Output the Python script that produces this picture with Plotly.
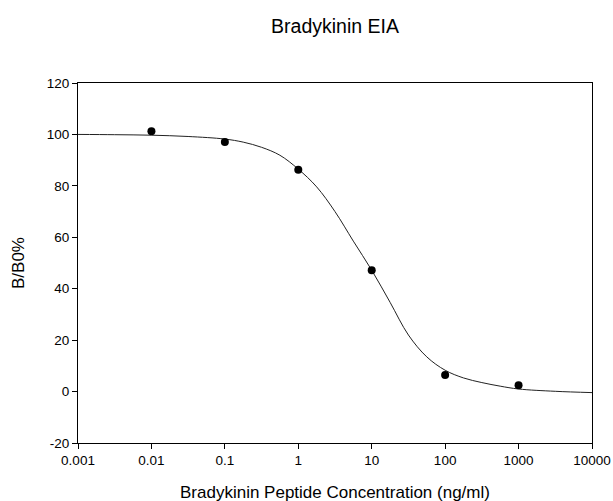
import plotly.graph_objects as go

# Measured points
conc = [0.01, 0.1, 1, 10, 100, 1000]
bb0 = [101.2, 97.1, 86.3, 47.2, 6.4, 2.5]

# Fitted curve (quarter-decade steps)
curve_x = [0.001, 0.00316, 0.01, 0.0316, 0.1, 0.178, 0.316, 0.562, 1, 1.78, 3.16,
           5.62, 10, 17.8, 31.6, 56.2, 100, 178, 316, 562, 1000, 3162, 10000]
curve_y = [100.0, 99.9, 99.7, 99.2, 98.2, 97.0, 95.0, 91.9, 86.5, 79.6, 70.0,
           58.5, 47.2, 34.7, 22.0, 13.5, 8.3, 5.3, 3.5, 2.1, 1.0, 0.1, -0.4]

x_ticks = [0.001, 0.01, 0.1, 1, 10, 100, 1000, 10000]
x_tick_labels = ["0.001", "0.01", "0.1", "1", "10", "100", "1000", "10000"]
y_ticks = [-20, 0, 20, 40, 60, 80, 100, 120]
y_tick_labels = ["-20", "0", "20", "40", "60", "80", "100", "120"]

FONT = "Liberation Sans, Arial, sans-serif"
W, H = 613, 501
L, R, T, B = 78, 21, 83, 58
PW, PH = W - L - R, H - T - B

fig = go.Figure()
fig.add_trace(go.Scatter(
    x=curve_x, y=curve_y, mode="lines",
    line=dict(color="#222222", width=1, shape="spline", smoothing=1.0),
    hoverinfo="skip", showlegend=False))
fig.add_trace(go.Scatter(
    x=conc, y=bb0, mode="markers",
    marker=dict(color="black", size=8),
    showlegend=False))

fig.update_layout(
    width=W, height=H,
    margin=dict(l=L, r=R, t=T, b=B, autoexpand=False),
    paper_bgcolor="white", plot_bgcolor="white",
    font=dict(family=FONT, color="black", size=13.5),
    title=dict(text="Bradykinin EIA", x=335 / W, xanchor="center",
               y=1 - 26 / H, yanchor="middle",
               font=dict(family=FONT, size=19.5, color="black")),
    annotations=[
        dict(text="Bradykinin Peptide Concentration (ng/ml)", xref="paper", yref="paper",
             x=0.5, y=-(492 - (H - B)) / PH, xanchor="center", yanchor="middle",
             showarrow=False, font=dict(family=FONT, size=17, color="black")),
        dict(text="B/B0%", xref="paper", yref="paper", textangle=-90,
             x=-(L - 18) / PW, y=0.5, xanchor="center", yanchor="middle",
             showarrow=False, font=dict(family=FONT, size=17, color="black")),
    ],
)
fig.update_xaxes(
    type="log", range=[-3, 4], automargin=False,
    tickvals=x_ticks, ticktext=x_tick_labels,
    ticks="outside", ticklen=5, tickwidth=1, tickcolor="black",
    showline=True, linecolor="black", linewidth=1, mirror=True,
    showgrid=False, zeroline=False,
    tickfont=dict(family=FONT, size=13.5),
)
fig.update_yaxes(
    range=[-20, 120], automargin=False,
    tickvals=y_ticks, ticktext=y_tick_labels,
    ticks="outside", ticklen=5, tickwidth=1, tickcolor="black",
    showline=True, linecolor="black", linewidth=1, mirror=True,
    showgrid=False, zeroline=False,
    tickfont=dict(family=FONT, size=13.5),
)

fig.write_html(
    "out.html",
    config={"displayModeBar": False},
    post_script="document.documentElement.style.overflow='hidden';"
                "document.body.style.margin='0';document.body.style.overflow='hidden';",
)
